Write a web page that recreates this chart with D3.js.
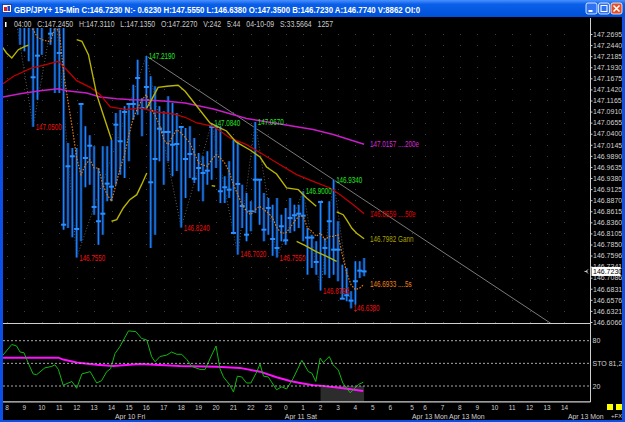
<!DOCTYPE html>
<html><head><meta charset="utf-8">
<script src="https://cdnjs.cloudflare.com/ajax/libs/d3/7.8.5/d3.min.js"></script>
<style>html,body{margin:0;padding:0;background:#000;overflow:hidden}</style>
</head><body>
<svg id="c" width="625" height="422" xmlns="http://www.w3.org/2000/svg"></svg>
<script>
// ---------------- DATA ----------------
const titleText = "GBP/JPY+ 15-Min C:146.7230 N:- 0.6230 H:147.5550 L:146.6380 O:147.3500 B:146.7230 A:146.7740 V:8862 OI:0";
const infoText = "04:00   C:147.2450   H:147.3110   L:147.1350   O:147.2270   V:242   5:44   04-10-09   S:33.5664   1257";

// 15-min bars, index 0 = Apr 10 08:00
const highs = [147.3600,147.3700,147.3500,147.3200,147.3300,147.3400,147.3100,147.3000,147.3300,147.3600,
147.3100,147.3400,147.3200,147.3000,147.0187,147.0071,147.0071,147.1084,147.0571,147.0364,
147.0111,146.9611,147.0111,147.0111,147.0262,147.0877,147.0953,147.1031,147.1107,147.1528,
147.2104,147.1222,147.2190,147.1722,147.1491,147.1031,147.0916,147.1261,147.1107,147.0877,
147.0571,147.0532,147.0571,147.0302,146.9956,146.9880,146.9995,147.0640,147.0608,147.0571,
146.9420,146.9765,147.0262,147.0226,146.9227,146.9036,146.8845,147.0670,146.9342,146.9036,
146.8921,146.8767,146.8921,146.8536,146.8691,146.8921,146.8767,146.8767,146.9075,146.8230,
146.8076,146.7924,146.8829,146.8000,146.8845,146.9340,146.8385,146.7386,146.7310,146.6773,
146.7464,146.7464,146.7540];
const lows = [147.2900,147.3000,147.2900,147.2449,147.2297,147.2067,147.0560,147.1183,147.2219,147.2850,
147.2449,147.1337,147.1337,146.8191,146.8230,146.8016,146.7550,146.7924,146.9167,146.9227,
146.8536,146.7846,146.8076,146.8845,146.8845,146.9227,146.9457,146.9381,146.9765,147.0723,
147.0838,147.0341,147.0953,146.7770,146.8076,146.9765,146.9227,146.9765,146.9420,146.9542,
146.8240,146.8921,146.9381,146.9266,146.9075,146.8845,146.9227,146.9342,146.9611,146.8806,
146.8806,146.8921,146.8115,146.7620,146.8230,146.7924,146.8154,146.8576,146.8306,146.7924,
146.8076,146.7590,146.7550,146.7924,146.7846,146.8115,146.8154,146.8230,146.7924,146.7156,
146.7310,146.7156,146.6790,146.7156,146.7080,146.7156,146.7004,146.6619,146.6544,146.6380,
146.6465,146.7080,146.7119];
const closes = [147.3100,147.3300,147.3100,147.2900,147.3000,147.2900,147.1699,147.2196,147.2900,147.3300,
147.2702,147.2900,147.2258,146.8306,146.9650,146.9880,146.8207,147.1084,146.9841,147.0124,
146.8714,146.8385,146.8559,146.9250,146.9181,147.0608,147.0226,147.0900,147.1084,147.1084,
147.1682,147.0992,147.1475,146.9282,146.9818,147.0516,147.0440,147.0440,147.0147,147.0163,
147.0555,146.9818,146.9933,146.9365,146.9611,146.9496,146.9549,147.0555,147.0555,146.9075,
146.9167,146.9112,146.8115,146.9243,146.8737,146.8076,146.8615,146.9342,146.9342,146.8191,
146.8691,146.7977,146.7770,146.8270,146.7947,146.8460,146.8523,146.8559,146.8513,146.8009,
146.8009,146.7448,146.8829,146.7770,146.8385,146.7731,146.7731,146.6603,146.6681,146.6557,
146.7004,146.7248,146.7230];

// moving averages: [bar index, price]
const ma200 = [[-1.2,147.1238],[3.0,147.1321],[7.6,147.1390],[11.8,147.1436],[13.7,147.1390],[18.3,147.1337],[21.4,147.1245],[25.2,147.1206],[29.0,147.1183],[32.8,147.1169],[36.7,147.1146],[40.9,147.1107],[47.4,147.0969],[55.0,147.0750],[62.7,147.0624],[70.3,147.0497],[74.9,147.0382],[82,147.0157]];
const ma50 = [[-1.2,147.1528],[1.5,147.1722],[5.7,147.1913],[8.3,147.1975],[11.8,147.2067],[13.7,147.1873],[16.0,147.1620],[19.1,147.1468],[21.4,147.1298],[23.7,147.1015],[27.5,147.0953],[30.5,147.0992],[34.4,147.0900],[38.2,147.0854],[40.9,147.0778],[43.6,147.0647],[47.4,147.0571],[51.2,147.0302],[55.0,147.0147],[58.9,146.9917],[62.7,146.9687],[66.5,146.9457],[70.3,146.9305],[74.2,146.9151],[76.5,146.8997],[79.5,146.8767],[82,146.8559]];
const gannSeg1 = [[-1.2,147.2412],[-0.1,147.2258],[1.1,147.2143],[2.6,147.2334],[4.1,147.2412],[4.9,147.2435]];
const gannSeg2 = [[16.0,147.2564],[17.2,147.2527],[18.7,147.2219],[20.6,147.1298],[22.1,147.0838],[24.0,147.0262]];
const gannSeg3 = [[24.0,146.8385],[25.2,146.8421],[26.7,146.8691],[28.2,146.8882],[29.8,146.8997],[30.9,146.9227],[32.1,146.9496]];
const gannSeg4 = [[32.1,147.0992],[33.2,147.1183],[34.7,147.1468],[36.7,147.1491],[39.3,147.1514],[40.9,147.1376],[43.6,147.1031],[46.6,147.0647],[48.9,147.0532],[50.4,147.0463],[52.6,147.0210],[55.8,147.0025],[58.1,146.9864],[59.6,146.9634],[61.9,146.9473],[64.2,146.9151],[66.9,146.9112],[68.8,146.8921],[71.0,146.8730]];
const gannSeg5 = [[47.0,146.9204],[47.8,146.9190]];
const gannSeg6 = [[66.5,146.7924],[68.4,146.7832],[71.1,146.7678],[73.4,146.7579],[75.7,146.7464]];
const gannSeg7 = [[75.7,146.8599],[77.2,146.8536],[78.0,146.8414],[79.2,146.8223],[80.3,146.8108],[82,146.7982]];
// 5-bar average, aligned with bars (null = not shown)
const ma5 = [null,null,null,147.3000,147.2950,147.2900,147.2794,147.2619,147.2564,147.2538,
147.2511,147.2850,147.2757,147.1797,147.1146,147.0532,146.9841,146.9457,146.9687,146.9802,
146.9611,146.9611,146.9227,146.8997,146.8845,146.9227,146.9611,146.9917,147.0377,147.0762,
147.0992,147.1183,147.1298,147.0992,147.0824,147.0608,147.0262,147.0147,147.0341,147.0493,
147.0417,147.0302,147.0186,146.9956,146.9726,146.9680,146.9650,146.9802,146.9917,146.9841,
146.9726,146.9535,146.9227,146.8997,146.8767,146.8615,146.8536,146.8651,146.8730,146.8651,
146.8576,146.8460,146.8230,146.8115,146.8115,146.8230,146.8385,146.8500,146.8500,146.8230,
146.8154,146.8039,146.8115,146.7961,146.8039,146.8039,146.8076,146.7616,146.7195,146.6925,
146.6810,146.6849,146.6933];

// zigzag pivots (bar index), alternating high / low starting with high
const zigIdx = [1,6,11,16,32,40,47,53,57,62,68,72,75,79];
// pivot labels
const pivotIdx  = [6,16,32,40,47,53,57,62,68,72,75,79];
const pivotKind = ['L','L','H','L','H','L','H','L','H','L','H','L'];
const pivotText = ['147.0500','146.7550','147.2190','146.8240','147.0840','146.7020','147.0670','146.7550','146.9000','146.6790','146.9340','146.6380'];
// trend line through two highs
const trendIdx = [32,75];

// end-of-line labels
const endLabels = ['147.0157 ....200e','146.8559 ....50e','146.7982 Gann','146.6933 ....5s'];
const endValues = [147.0157,146.8559,146.7982,146.6933];
const lastPrice = 146.7230;

// stochastic [bar index, value]
const stochK = [[-1.2,59],[1.1,75],[2.2,73],[3.0,65],[3.9,64],[4.9,50],[6.0,36],[6.8,35],[8.7,44],[10.3,46],[11.0,48],[11.8,42],[12.9,21],[14.9,26],[16.0,17],[17.2,36],[19.1,39],[20.6,24],[21.7,27],[22.9,39],[23.8,43],[24.8,63],[25.9,72],[27.9,93],[29.6,92],[30.9,83],[32.1,81],[33.2,59],[34.0,52],[35.1,59],[36.7,61],[37.8,65],[39.0,62],[40.1,62],[41.3,55],[42.4,46],[44.3,42],[45.5,42],[47.0,61],[48.0,73],[48.9,43],[49.7,32],[51.2,21],[52.0,12],[52.9,33],[53.9,32],[55.0,24],[56.0,24],[57.2,37],[58.1,49],[58.9,33],[60.0,32],[61.9,15],[63.1,19],[64.2,16],[65.7,30],[67.7,54],[69.2,39],[70.0,37],[70.9,26],[71.9,57],[72.6,51],[74.0,59],[74.9,48],[76.1,41],[77.1,24],[78.8,11],[79.7,16],[80.7,22],[81.8,25]];
const stochD = [[-1.6,57.5],[11.8,57.5],[12.9,55],[16.0,51],[20.6,48],[24.4,46.5],[30.5,49],[39.7,46.5],[48.2,45.5],[53.5,44],[58.1,39],[61.9,31.5],[65.0,26.6],[67.3,24],[70.3,21],[71.9,20.5],[77.2,17],[81.8,13.4]];
const stochLevels = [80,50,20];
const stochLevelText = ['80','STO 81,2','20'];
const stochZone = [72,82];

// axis labels
const priceTicks = [147.2695,147.2440,147.2185,147.1930,147.1675,147.1420,147.1165,147.0910,147.0655,147.0400,147.0145,146.9890,146.9635,146.9380,146.9125,146.8870,146.8615,146.8360,146.8105,146.7850,146.7596,146.7341,146.7086,146.6831,146.6576,146.6321,146.6066];
const hourSlots = [0,4,8,12,16,20,24,28,32,36,40,44,48,52,56,60,64,68,72,76,80,84,88,93,96,100,104,108,112,116,120,124,128];
const hourLabels = ['8','9','10','11','12','13','14','15','16','17','18','19','20','21','22','23','0','1','2','3','4','5','6','5','6','7','8','9','10','11','12','13','14'];
const dateSlots = [24.8,63.8,93,101.5,128.8];
const dateLabels = ['Apr 10 Fri','Apr 11 Sat','Apr 13 Mon','Apr 13 Mon','Apr 13 Mon'];

// ---------------- DRAW ----------------
const svg = d3.select('#c');
const FONT = "'Liberation Sans', Arial, sans-serif";
const L = 3, R = 590.5;
const x = d3.scaleLinear().domain([0,128]).range([7, 7 + 4.355*128]);
const y = d3.scaleLinear().domain([146.6066,147.2695]).range([322,34]);
const ys = d3.scaleLinear().domain([0,100]).range([401.1,325.6]);

function condense(sel, f){
  sel.each(function(){
    const w = this.getComputedTextLength();
    if (w > 0){ this.setAttribute('textLength', (w*f).toFixed(1)); this.setAttribute('lengthAdjust','spacingAndGlyphs'); }
  });
}
function fit(sel, w){ sel.attr('textLength', w).attr('lengthAdjust','spacingAndGlyphs'); }

svg.append('rect').attr('width',625).attr('height',422).attr('fill','#000');

const defs = svg.append('defs');
defs.append('clipPath').attr('id','cm').append('rect').attr('x',L).attr('y',28).attr('width',R-L).attr('height',295);
defs.append('clipPath').attr('id','cs').append('rect').attr('x',L).attr('y',324).attr('width',R-L).attr('height',77);
const tg = defs.append('linearGradient').attr('id','tb').attr('x1',0).attr('x2',0).attr('y1',0).attr('y2',1);
tg.append('stop').attr('offset','0%').attr('stop-color','#4a90ff');
tg.append('stop').attr('offset','25%').attr('stop-color','#0a5fe8');
tg.append('stop').attr('offset','100%').attr('stop-color','#0050d8');

// grid dots
const gridG = svg.append('g').attr('clip-path','url(#cm)');
hourSlots.filter(s => x(s) < R).forEach(s => {
  priceTicks.forEach(p => {
    gridG.append('rect').attr('x', Math.round(x(s))).attr('y', Math.round(y(p))).attr('width',1).attr('height',1).attr('fill','#3c3c3c');
  });
});

const main = svg.append('g').attr('clip-path','url(#cm)');

// zigzag
const zigPts = zigIdx.map((i,k) => [i, k%2===0 ? highs[i] : lows[i]]);
main.append('path').datum(zigPts)
  .attr('d', d3.line().x(d=>x(d[0])).y(d=>y(d[1])))
  .attr('fill','none').attr('stroke','#5e5e5e').attr('stroke-width',1).attr('stroke-dasharray','1,2');

// trend line
const t0 = trendIdx[0], t1 = trendIdx[1];
const slope = (highs[t1]-highs[t0])/(t1-t0);
main.append('line')
  .attr('x1', x(t0)).attr('y1', y(highs[t0]))
  .attr('x2', x(140)).attr('y2', y(highs[t0] + slope*(140-t0)))
  .attr('stroke','#7a7a7a').attr('stroke-width',1);

// bars
const idx = d3.range(highs.length);
main.selectAll('line.under').data(idx).join('line').attr('class','under')
  .attr('x1', i=>x(i)).attr('x2', i=>x(i)).attr('y1', i=>y(highs[i])).attr('y2', i=>y(lows[i]))
  .attr('stroke','#0b2f68').attr('stroke-width',3);
main.selectAll('line.bar').data(idx).join('line').attr('class','bar')
  .attr('x1', i=>x(i)).attr('x2', i=>x(i)).attr('y1', i=>y(highs[i])).attr('y2', i=>y(lows[i]))
  .attr('stroke','#1c86ff').attr('stroke-width',1.2);
main.selectAll('rect.tick').data(idx).join('rect').attr('class','tick')
  .attr('x', i=>x(i)-2.5).attr('y', i=>y(closes[i])-1).attr('width',5).attr('height',2)
  .attr('fill','#2a8fff');

// moving averages
const lineP = d3.line().x(d=>x(d[0])).y(d=>y(d[1]));
main.append('path').datum(ma200).attr('d', lineP).attr('fill','none').attr('stroke','#c81ec8').attr('stroke-width',1.4);
main.append('path').datum(ma50).attr('d', lineP).attr('fill','none').attr('stroke','#c00000').attr('stroke-width',1.3);
[gannSeg1,gannSeg2,gannSeg3,gannSeg4,gannSeg5,gannSeg6,gannSeg7].forEach(seg => {
  main.append('path').datum(seg).attr('d', lineP).attr('fill','none').attr('stroke','#b8b400').attr('stroke-width',1.4);
});
main.append('path').datum(ma5.map((v,i)=>[i,v]))
  .attr('d', d3.line().defined(d=>d[1]!==null).x(d=>x(d[0])).y(d=>y(d[1])))
  .attr('fill','none').attr('stroke','#e87a10').attr('stroke-width',1.2).attr('stroke-dasharray','1.5,1.5');

// pivot labels
const pv = main.selectAll('text.pv').data(pivotIdx).join('text').attr('class','pv')
  .attr('x', i=>x(i)+2.5)
  .attr('y', (i,k)=> y(pivotKind[k]==='H' ? highs[i] : lows[i]) + 3)
  .attr('fill', (i,k)=> pivotKind[k]==='H' ? '#22e622' : '#ee1010')
  .attr('font-family', FONT).attr('font-size', 8.5)
  .text((i,k)=>pivotText[k]);
fit(pv, 26);

// end-of-line labels
const endColors = ['#d62ad6','#e80000','#a8a400','#f08418'];
const el = svg.selectAll('text.endl').data(endLabels).join('text').attr('class','endl')
  .attr('x', x(82)+6).attr('y', (d,k)=>y(endValues[k])+3)
  .attr('fill',(d,k)=>endColors[k]).attr('font-family',FONT).attr('font-size',8.5)
  .text(d=>d);
condense(el, 0.74);

// ------- stochastic panel -------
const st = svg.append('g').attr('clip-path','url(#cs)');
st.append('rect').attr('x', x(stochZone[0])).attr('y', ys(20)).attr('width', x(stochZone[1])-x(stochZone[0])).attr('height', ys(0)-ys(20)).attr('fill','#2c2c2c');
stochLevels.forEach(v => {
  svg.append('line').attr('x1',L).attr('x2',R).attr('y1',ys(v)).attr('y2',ys(v))
    .attr('stroke','#a8a8a8').attr('stroke-width',1).attr('stroke-dasharray','2,2');
});
const lineS = d3.line().x(d=>x(d[0])).y(d=>ys(d[1]));
st.append('path').datum(stochD).attr('d', lineS).attr('fill','none').attr('stroke','#ff10ff').attr('stroke-width',2);
st.append('path').datum(stochK).attr('d', lineS).attr('fill','none').attr('stroke','#10b810').attr('stroke-width',1);

svg.selectAll('text.sl').data(stochLevels).join('text').attr('class','sl')
  .attr('x', R+2).attr('y', v=>ys(v)+2.5)
  .attr('fill','#d0d0d0').attr('font-family',FONT).attr('font-size',7)
  .text((v,k)=>stochLevelText[k]);

// ------- axes -------
// price axis
const axG = svg.append('g').attr('transform', `translate(${R},0)`)
  .call(d3.axisRight(y).tickValues(priceTicks).tickFormat(d3.format('.4f')).tickSize(2).tickPadding(0.5));
axG.select('.domain').remove();
axG.selectAll('line').attr('stroke','#c8c8c8');
axG.selectAll('text').attr('fill','#d0d0d0').attr('font-family',FONT).attr('font-size',7);

// current price box
const cp = y(lastPrice);
svg.append('rect').attr('x',R+1).attr('y',cp-4.5).attr('width',29).attr('height',9).attr('fill','#ffffff');
svg.append('text').attr('x',R+2.5).attr('y',cp+2.5).attr('fill','#000').attr('font-family',FONT).attr('font-size',7).text(d3.format('.4f')(lastPrice));
svg.append('path').attr('d',`M${R-6},${cp} h3 M${R-2.5},${cp-2} l-2,2 l2,2`).attr('stroke','#d0d0d0').attr('fill','none').attr('stroke-width',1);

// panel frame lines
svg.append('line').attr('x1',L).attr('x2',R).attr('y1',323.5).attr('y2',323.5).attr('stroke','#cfcfcf').attr('stroke-width',1.2);
svg.append('line').attr('x1',L).attr('x2',R).attr('y1',401.8).attr('y2',401.8).attr('stroke','#cfcfcf').attr('stroke-width',1.2);
svg.append('line').attr('x1',R).attr('x2',R).attr('y1',18).attr('y2',402).attr('stroke','#cfcfcf').attr('stroke-width',1);

// time axis
const hl = svg.selectAll('text.hr').data(hourSlots).join('text').attr('class','hr')
  .attr('x', s=>x(s)).attr('y', 409.5).attr('text-anchor','middle')
  .attr('fill','#d0d0d0').attr('font-family',FONT).attr('font-size',8)
  .text((s,k)=>hourLabels[k]);
condense(hl, 0.8);
svg.selectAll('text.dt').data(dateSlots).join('text').attr('class','dt')
  .attr('x', s=>x(s)).attr('y', 418.5).attr('fill','#d0d0d0').attr('font-family',FONT).attr('font-size',6.9)
  .text((s,k)=>dateLabels[k]);

// bottom-right widgets
svg.append('rect').attr('x',607).attr('y',404).attr('width',6).attr('height',6).attr('fill','#ffff00');
svg.append('rect').attr('x',616).attr('y',404).attr('width',6).attr('height',6).attr('fill','#ffff00');
svg.append('text').attr('x',611).attr('y',418).attr('fill','#d0d0d0').attr('font-family',FONT).attr('font-size',6).text('+FX');

// info line
svg.append('rect').attr('x',5).attr('y',22).attr('width',1.5).attr('height',5).attr('fill','#ffffff');
const inf = svg.append('text').attr('x',14).attr('y',26.5).attr('fill','#c8c8c8').attr('font-family',FONT).attr('font-size',8.5)
  .style('white-space','pre').text(infoText);
fit(inf, 319);

// window chrome
svg.append('rect').attr('x',0).attr('y',0).attr('width',625).attr('height',17).attr('fill','url(#tb)');
svg.append('rect').attr('x',0).attr('y',17).attr('width',3).attr('height',405).attr('fill','#0a4fe6');
svg.append('rect').attr('x',622).attr('y',17).attr('width',3).attr('height',405).attr('fill','#0a4fe6');
svg.append('rect').attr('x',0).attr('y',420).attr('width',625).attr('height',2).attr('fill','#0a4fe6');
// icon
svg.append('rect').attr('x',2.5).attr('y',4.5).attr('width',9).attr('height',8).attr('fill','#ffffff').attr('stroke','#1a2a80').attr('stroke-width',0.8);
svg.append('rect').attr('x',4).attr('y',7).attr('width',3).attr('height',4).attr('fill','#e02020');
svg.append('rect').attr('x',7.5).attr('y',6).attr('width',2.5).attr('height',5).attr('fill','#2040c0');
const tt = svg.append('text').attr('x',14).attr('y',12.5).attr('fill','#ffffff').attr('font-family',FONT)
  .attr('font-weight','bold').attr('font-size',9.5).text(titleText);
fit(tt, 406);
// buttons
svg.append('rect').attr('x',586).attr('y',3).attr('width',11).attr('height',11).attr('rx',2).attr('fill','#2f72f2').attr('stroke','#ffffff').attr('stroke-width',0.8);
svg.append('rect').attr('x',588.5).attr('y',10).attr('width',4).attr('height',2).attr('fill','#ffffff');
svg.append('rect').attr('x',598.5).attr('y',3).attr('width',11).attr('height',11).attr('rx',2).attr('fill','#2f72f2').attr('stroke','#ffffff').attr('stroke-width',0.8);
svg.append('rect').attr('x',601).attr('y',5.5).attr('width',6).attr('height',6).attr('fill','none').attr('stroke','#ffffff').attr('stroke-width',1);
svg.append('rect').attr('x',611).attr('y',3).attr('width',11).attr('height',11).attr('rx',2).attr('fill','#e2512c').attr('stroke','#ffffff').attr('stroke-width',0.8);
svg.append('path').attr('d','M613.5,5.5 L619.5,11.5 M619.5,5.5 L613.5,11.5').attr('stroke','#ffffff').attr('stroke-width',1.5);
</script>
</body></html>
